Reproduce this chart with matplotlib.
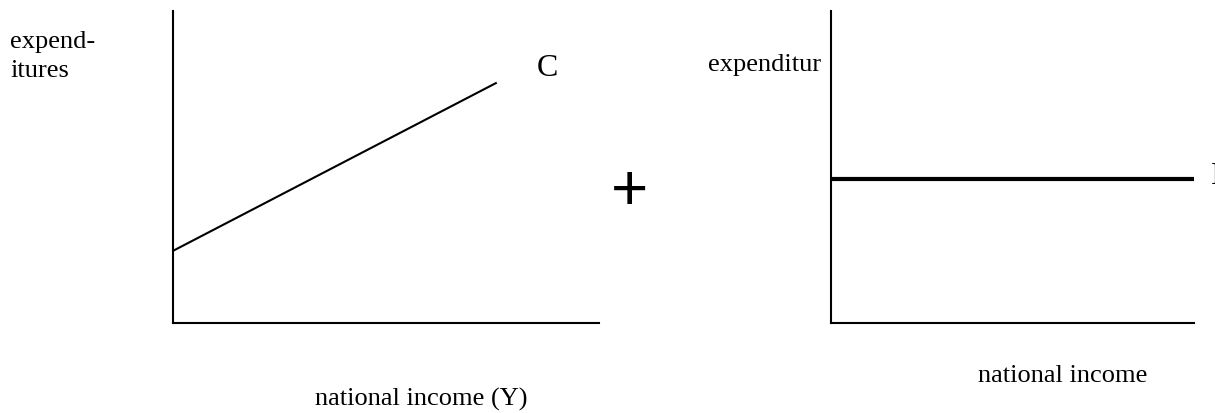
import matplotlib
matplotlib.use("Agg")
import matplotlib.pyplot as plt

W, H = 1215, 413
DPI = 100

# ---- data ----
c_x = [0.0, 7.6]          # consumption line (national income)
c_y = [2.3, 7.7]          # consumption expenditures
i_x = [0.0, 10.0]         # investment line (national income)
i_y = [4.6, 4.6]          # investment expenditures (constant)

left_ylabel = ["expend-", "itures"]
right_ylabel = "expenditur"
left_xlabel = "national income (Y)"
right_xlabel = "national income"
c_label = "C"
i_label = "I"

plt.rcParams['font.family'] = ['Liberation Serif', 'DejaVu Serif']

fig = plt.figure(figsize=(W / DPI, H / DPI), dpi=DPI)
fig.patch.set_facecolor('white')


def fx(x):
    return x / W


def fy(y):
    return 1 - y / H


def make_axes(x0, x1, ytop, ybot):
    ax = fig.add_axes([fx(x0), fy(ybot), fx(x1) - fx(x0), fy(ytop) - fy(ybot)])
    ax.set_xlim(0, 10)
    ax.set_ylim(0, 10)
    for s in ['top', 'right']:
        ax.spines[s].set_visible(False)
    for s in ['left', 'bottom']:
        ax.spines[s].set_linewidth(1.5)
        ax.spines[s].set_color('black')
    ax.set_xticks([])
    ax.set_yticks([])
    ax.patch.set_alpha(0)
    return ax


ax1 = make_axes(173, 599, 11, 322.5)
ax1.plot(c_x, c_y, color='black', linewidth=1.5, solid_capstyle='butt', clip_on=False)

ax2 = make_axes(831, 1194, 11, 323)
ax2.plot(i_x, i_y, color='black', linewidth=3, solid_capstyle='butt', clip_on=False)

fs = 19
fig.text(fx(10), fy(48), left_ylabel[0], fontsize=fs, ha='left', va='baseline')
fig.text(fx(10), fy(77), left_ylabel[1], fontsize=fs, ha='left', va='baseline')
fig.text(fx(821), fy(71), right_ylabel, fontsize=fs, ha='right', va='baseline')
fig.text(fx(315), fy(406), left_xlabel, fontsize=fs, ha='left', va='baseline')
fig.text(fx(978), fy(382), right_xlabel, fontsize=fs, ha='left', va='baseline')
fig.text(fx(537), fy(76), c_label, fontsize=23, ha='left', va='baseline')
fig.text(fx(1211), fy(184), i_label, fontsize=23, ha='left', va='baseline')
fig.text(fx(630), fy(210), "+", fontsize=46, ha='center', va='baseline',
         family=['Liberation Sans', 'DejaVu Sans'])

fig.savefig("out.png", dpi=DPI)
